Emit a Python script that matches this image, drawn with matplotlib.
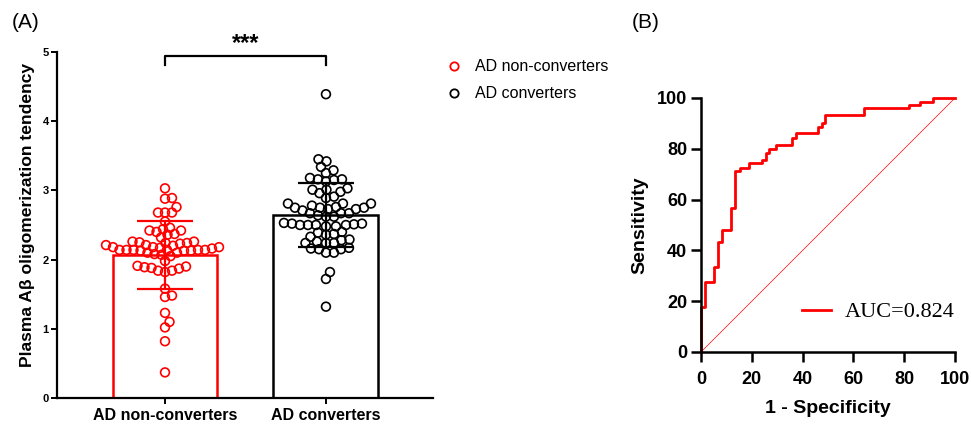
import numpy as np
import matplotlib
matplotlib.use("Agg")
import matplotlib.pyplot as plt
from matplotlib.lines import Line2D

plt.rcParams['font.family'] = ['Liberation Sans', 'DejaVu Sans']

# ---- data, panel A ----
groups = ['AD non-converters', 'AD converters']
group_colors = ['#ff0000', '#000000']
bar_means = [2.07, 2.64]
bar_sd = [0.49, 0.46]

non_converters = [3.03, 2.89, 2.88, 2.76, 2.68, 2.68, 2.68, 2.55,
                  2.42, 2.44, 2.36, 2.37, 2.42, 2.46, 2.40, 2.32,
                  2.26, 2.24, 2.25, 2.23, 2.24, 2.26,
                  2.21, 2.20, 2.21,
                  2.18, 2.18, 2.17, 2.18, 2.16,
                  2.14, 2.13, 2.14, 2.14, 2.13, 2.14, 2.14, 2.13, 2.14,
                  2.10, 2.10,
                  2.05, 2.07, 2.08, 1.98, 1.91, 1.90, 1.89, 1.88, 1.87,
                  1.84, 1.84, 1.82, 1.58, 1.48, 1.46, 1.23, 1.10, 1.02,
                  0.82, 0.37]
converters = [4.39, 3.45, 3.42, 3.34, 3.25, 3.29,
              3.13, 3.18, 3.16, 3.15, 3.16,
              3.03, 2.98, 3.01, 3.01, 2.96, 2.91, 2.89,
              2.81, 2.76, 2.71, 2.75, 2.73, 2.81, 2.73, 2.67, 2.75,
              2.81, 2.75, 2.78,
              2.67, 2.62, 2.67, 2.62, 2.64,
              2.51, 2.50, 2.50, 2.52, 2.48, 2.52, 2.50, 2.53, 2.48, 2.50,
              2.37, 2.40, 2.36, 2.39, 2.33,
              2.24, 2.24, 2.26, 2.29, 2.24, 2.28,
              2.10, 2.16, 2.15, 2.15, 2.10, 2.17,
              1.82, 1.72, 1.32]

# ---- data, panel B (ROC, step vertices) ----
fpr = [0, 0, 1.6, 5.2, 6.8, 8.4, 11.8, 13.5, 15.4, 18.9, 23.9, 25.6, 26.9,
       29.5, 35.7, 37.3, 45.9, 47.5, 48.8, 64.2, 82.0, 86.2, 91.2, 100]
tpr = [0, 17.8, 27.7, 33.3, 43.4, 48.0, 56.8, 71.3, 72.6, 74.3, 75.6, 78.5,
       79.9, 81.5, 84.4, 86.1, 88.7, 90.3, 93.3, 95.9, 97.2, 98.6, 100, 100]
auc_label = 'AUC=0.824'


def swarm(vals, diam, px_x, px_y):
    # simple beeswarm: offsets in data units, collision test in pixels
    placed = []
    offs = []
    for v in vals:
        y = v * px_y
        found = 0.0
        for k in range(400):
            cands = [0.0] if k == 0 else [k * 0.5, -k * 0.5]
            ok = None
            for c in cands:
                if all((c - a) ** 2 + (y - b) ** 2 >= diam ** 2 for a, b in placed):
                    ok = c
                    break
            if ok is not None:
                found = ok
                break
        placed.append((found, y))
        offs.append(found / px_x)
    return np.array(offs)


W, H = 971, 429
fig = plt.figure(figsize=(W / 100, H / 100), dpi=100)

# ---------------- panel A ----------------
axA = fig.add_axes([57 / W, 31 / H, (433 - 57) / W, (398 - 52) / H])
xlo, xhi = -0.671, 1.665
axA.set_xlim(xlo, xhi)
axA.set_ylim(0, 5)
px_x = (433 - 57) / (xhi - xlo)
px_y = (398 - 52) / 5.0

axA.bar([0, 1], bar_means, width=0.652, color='white',
        edgecolor=group_colors, linewidth=1.8, zorder=1)

for i, vals in enumerate([non_converters, converters]):
    vals = np.array(vals)
    order = np.argsort(vals)
    xs = np.empty(len(vals))
    xs[order] = swarm(vals[order], [7.0, 7.8][i], px_x, px_y)
    axA.scatter(i + xs, vals, s=40, facecolors='none',
                edgecolors=group_colors[i], linewidths=1.2, zorder=2)
    axA.errorbar(i, bar_means[i], yerr=bar_sd[i], color=group_colors[i],
                 capsize=20, capthick=1.6, elinewidth=1.6, zorder=3)

for s in ['top', 'right']:
    axA.spines[s].set_visible(False)
for s in ['left', 'bottom']:
    axA.spines[s].set_linewidth(1.6)
axA.set_xticks([0, 1])
axA.set_xticklabels(groups, fontsize=11.5, fontweight='bold')
axA.set_yticks([0, 1, 2, 3, 4, 5])
axA.tick_params(axis='both', length=4, width=1.4, labelsize=8, pad=2)
axA.tick_params(axis='x', labelsize=11.5, pad=3)
for lab in axA.get_yticklabels():
    lab.set_fontweight('bold')
axA.set_ylabel('Plasma Aβ oligomerization tendency', fontsize=12.6,
               fontweight='bold')
axA.yaxis.set_label_coords(-0.058, 0.53)

# significance bracket
axA.plot([0, 0, 1, 1], [4.81, 4.94, 4.94, 4.81], color='black', lw=1.6,
         clip_on=False)
axA.text(0.5, 4.96, '***', ha='center', va='bottom', fontsize=17,
         fontweight='bold', clip_on=False)

handles = [Line2D([], [], ls='none', marker='o', mfc='none', mec=c, mew=1.3,
                  ms=6) for c in group_colors]
axA.legend(handles, groups, loc='upper left',
           bbox_to_anchor=(432 / W, 1 - 45 / H), bbox_transform=fig.transFigure,
           frameon=False, fontsize=11.5, handlelength=1.0, handletextpad=0.8,
           labelspacing=0.75)

fig.text(12 / W, 1 - 23 / H, '(A)', fontsize=15, va='center', ha='left')
fig.text(632 / W, 1 - 23 / H, '(B)', fontsize=15, va='center', ha='left')

# ---------------- panel B ----------------
axB = fig.add_axes([701 / W, (H - 352) / H, 254 / W, 254 / H])
axB.plot([0, 100], [0, 100], color='#ff0000', lw=0.5, zorder=1)
axB.step(fpr, tpr, where='post', color='#ff0000', lw=2.0, zorder=2,
         label=auc_label, clip_on=False)
axB.set_xlim(0, 100)
axB.set_ylim(0, 100)
axB.set_xticks(range(0, 101, 20))
axB.set_yticks(range(0, 101, 20))
for s in ['top', 'right']:
    axB.spines[s].set_visible(False)
for s in ['left', 'bottom']:
    axB.spines[s].set_linewidth(1.8)
axB.tick_params(axis='both', length=7, width=1.8, labelsize=13, pad=3)
axB.tick_params(axis='x', pad=7)
for lab in axB.get_xticklabels() + axB.get_yticklabels():
    lab.set_fontweight('bold')
axB.set_xlabel('1 - Specificity', fontsize=14, fontweight='bold', labelpad=8)
axB.set_ylabel('Sensitivity', fontsize=14, fontweight='bold', labelpad=6)
axB.legend(loc='lower right', bbox_to_anchor=(1.077, 0.038), frameon=False,
           prop={'family': 'Liberation Serif', 'size': 16},
           handlelength=1.3, handletextpad=0.6)

fig.savefig('out.png', dpi=100)
